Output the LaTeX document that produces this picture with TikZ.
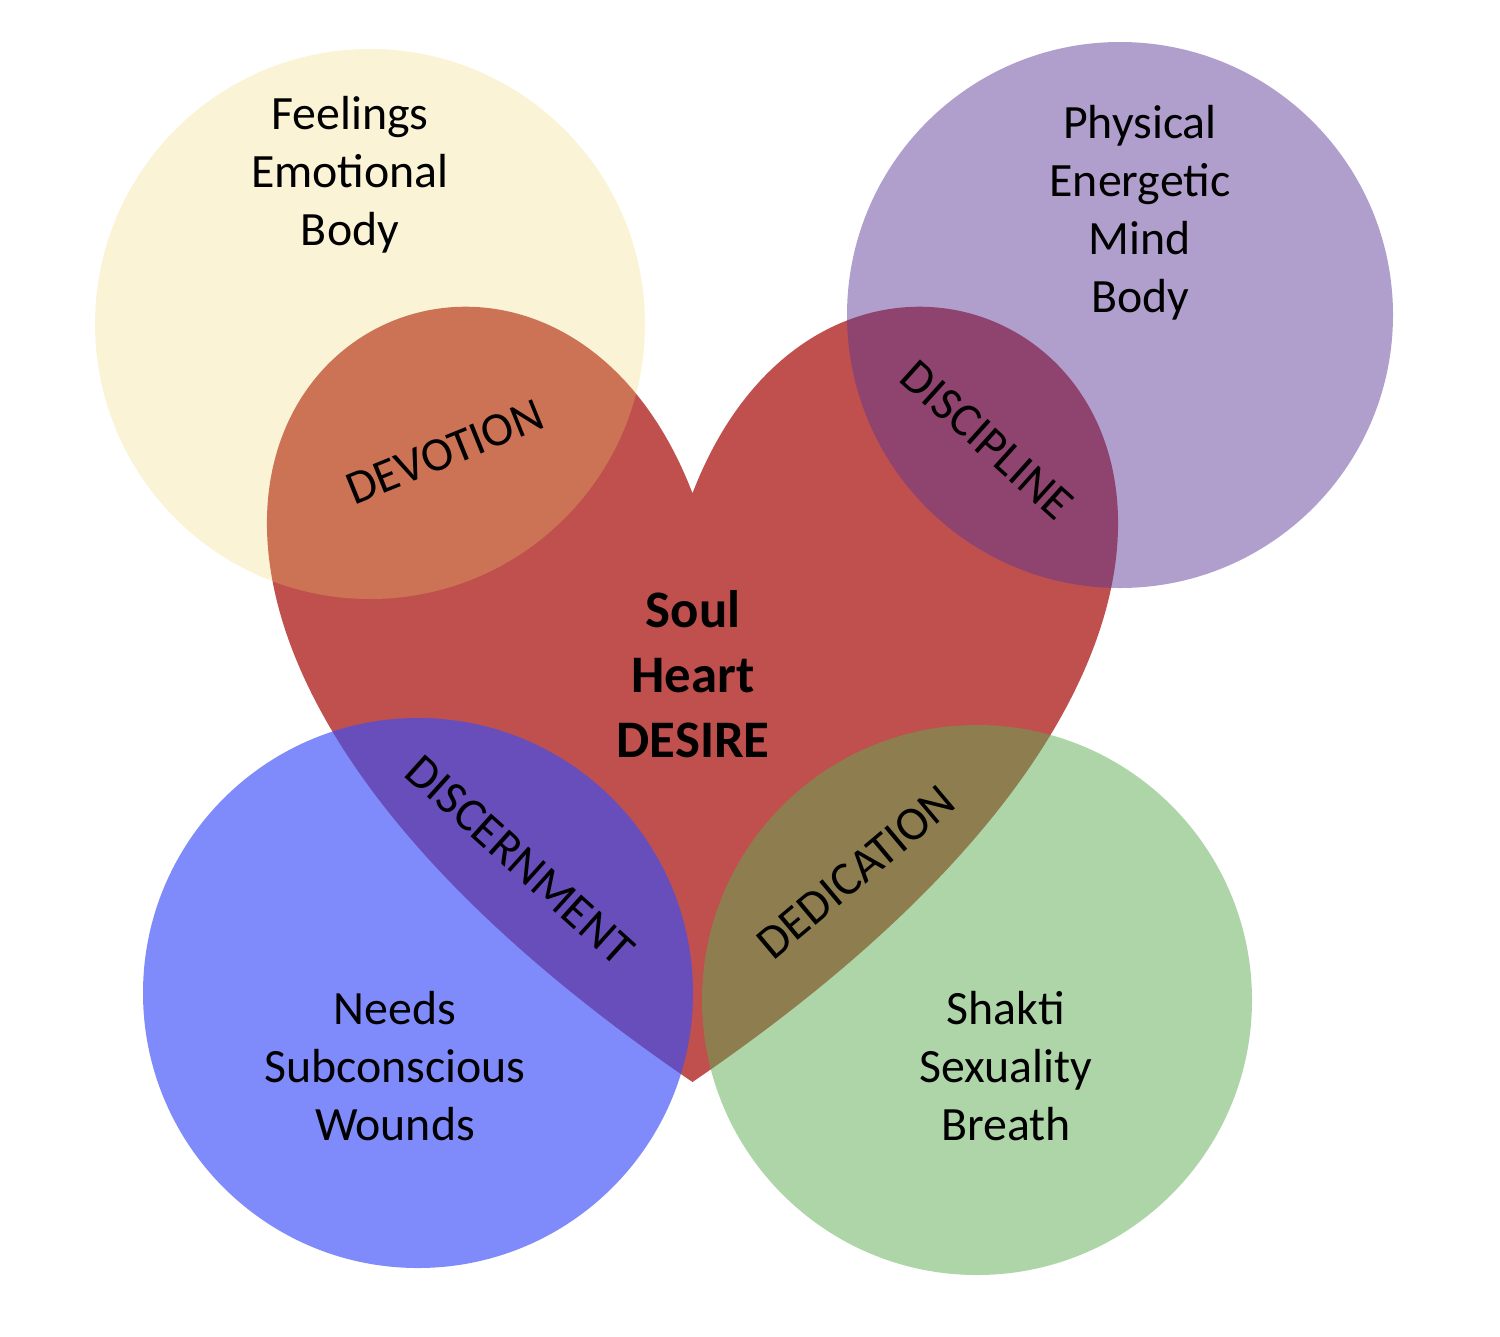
\documentclass[tikz,border=0pt]{standalone}
\usepackage{fontspec}
\setmainfont{Carlito}
\usetikzlibrary{positioning}
\definecolor{heartred}{RGB}{192,80,77}
\definecolor{feelyellow}{RGB}{236,210,103}
\definecolor{physpurple}{RGB}{90,55,149}
\definecolor{needblue}{RGB}{58,77,247}
\definecolor{shaktigreen}{RGB}{93,171,81}

\begin{document}
\begin{tikzpicture}[x=0.01cm,y=-0.01cm,
  word/.style={align=center,font=\fontsize{13.6}{16.5}\selectfont},
  core/.style={align=center,font=\fontsize{15}{18.5}\selectfont\bfseries}]
\useasboundingbox (0,0) rectangle (1500,1336);

% heart
\fill[heartred] (692.5,493.25) .. controls (868.5,35.3) and (1555.1,493.25) .. (692.5,1082)
  .. controls (-170.1,493.25) and (516.5,35.3) .. (692.5,493.25) -- cycle;

% circles
\fill[feelyellow,fill opacity=.27] (370,324) circle (275);
\fill[physpurple,fill opacity=.48] (1120,315) circle (273);
\fill[needblue,fill opacity=.65] (418,993) circle (275);
\fill[shaktigreen,fill opacity=.5] (977,1000) circle (275);

\node[word] (feel) at (350,175) {Feelings\\Emotional\\Body};
\node[word] (phys) at (1140,213) {Physical\\Energetic\\Mind\\Body};
\node[word] (need) at (395,1066) {Needs\\Subconscious\\Wounds};
\node[word] (shak) at (1006,1066) {Shakti\\Sexuality\\Breath};
\node[core] (soul) at (693,674) {Soul\\Heart\\DESIRE};

\node[word,rotate=22] (devo) at (445,452) {DEVOTION};
\node[word,rotate=-42] (disc) at (987,440) {DISCIPLINE};
\node[word,rotate=-42] (disn) at (520,860) {DISCERNMENT};
\node[word,rotate=40] (dedi) at (856,872) {DEDICATION};
\end{tikzpicture}
\end{document}
